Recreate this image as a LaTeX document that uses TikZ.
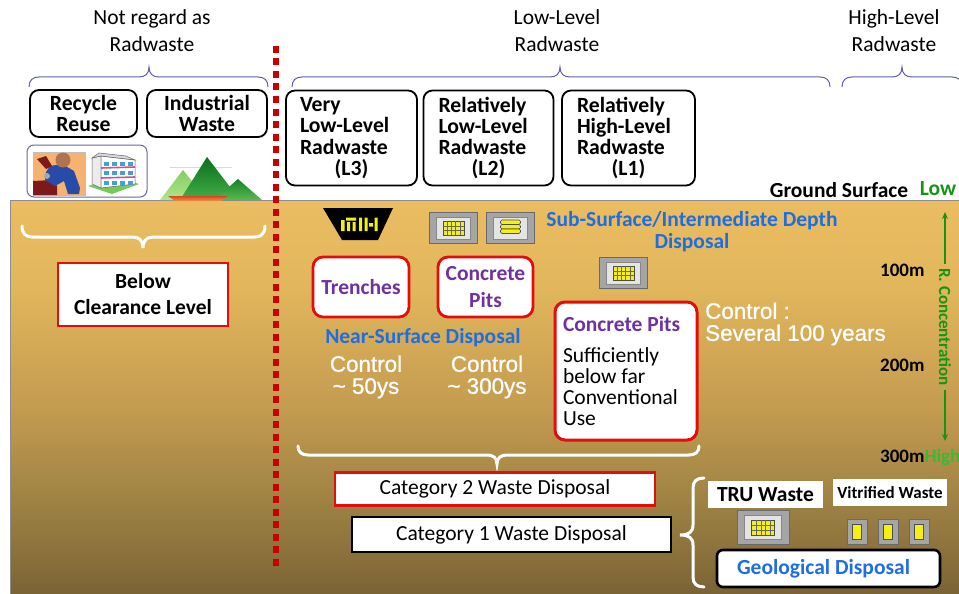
\documentclass[tikz,border=0pt]{standalone}
\usepackage{fontspec}
\setmainfont{Carlito}
\newfontfamily\arialfont[FakeBold=0.9]{Liberation Sans}
\usetikzlibrary{arrows.meta}

\definecolor{bracecol}{RGB}{95,95,175}
\definecolor{bluetxt}{RGB}{30,110,225}
\definecolor{purpletxt}{RGB}{112,48,160}
\definecolor{redcol}{RGB}{228,12,12}
\definecolor{dotred}{RGB}{200,0,0}
\definecolor{greentxt}{RGB}{20,150,20}
\definecolor{greenhigh}{RGB}{50,190,50}
\definecolor{crateout}{RGB}{165,165,165}
\definecolor{crateedge}{RGB}{105,105,105}
\definecolor{cratein}{RGB}{228,228,228}
\definecolor{wasteyel}{RGB}{245,240,20}
\definecolor{iconorange}{RGB}{245,178,112}
\definecolor{benchred}{RGB}{125,25,25}
\definecolor{bodyblue}{RGB}{40,75,170}
\definecolor{headbrown}{RGB}{175,115,80}
\definecolor{bandpink}{RGB}{210,80,140}
\definecolor{lawngreen}{RGB}{120,200,90}
\definecolor{windowblue}{RGB}{70,160,210}
\definecolor{mtlighttop}{RGB}{130,205,95}
\definecolor{mtlightbot}{RGB}{175,230,140}
\definecolor{mtdarktop}{RGB}{10,110,30}
\definecolor{mtdarkbot}{RGB}{70,175,70}
\definecolor{mtrighttop}{RGB}{20,130,40}
\definecolor{mtrightbot}{RGB}{90,185,80}
\definecolor{bowltop}{RGB}{215,70,40}
\definecolor{bowlbot}{RGB}{240,150,60}
\definecolor{gnd0}{RGB}{70,56,30}
\definecolor{gnd1}{RGB}{83,66,36}
\definecolor{gnd2}{RGB}{100,80,45}
\definecolor{gnd3}{RGB}{135,110,58}
\definecolor{gnd4}{RGB}{165,135,70}
\definecolor{gnd5}{RGB}{197,156,80}
\definecolor{gnd6}{RGB}{226,183,92}
\definecolor{gnd7}{RGB}{246,195,105}
\definecolor{gnd8}{RGB}{251,200,112}

\pgfdeclareverticalshading{groundshade}{100bp}{color(0bp)=(gnd0); color(8.6bp)=(gnd1);
  color(18.8bp)=(gnd2); color(28.9bp)=(gnd3); color(39bp)=(gnd4); color(49bp)=(gnd5);
  color(64.5bp)=(gnd6); color(87bp)=(gnd7); color(100bp)=(gnd8)}

% horizontal curly brace: style, left x, tip x, right x, end y, signed half height, curl width
\newcommand\hbrace[7]{\draw[#1] ({#2},{#5}) .. controls ({#2},{#5-0.7*(#6)}) and ({#2+0.4*(#7)},{#5-(#6)}) .. ({#2+(#7)},{#5-(#6)})
  -- ({#3-(#7)},{#5-(#6)}) .. controls ({#3-0.4*(#7)},{#5-(#6)}) and ({#3},{#5-1.3*(#6)}) .. ({#3},{#5-2*(#6)})
  .. controls ({#3},{#5-1.3*(#6)}) and ({#3+0.4*(#7)},{#5-(#6)}) .. ({#3+(#7)},{#5-(#6)})
  -- ({#4-(#7)},{#5-(#6)}) .. controls ({#4-0.4*(#7)},{#5-(#6)}) and ({#4},{#5-0.7*(#6)}) .. ({#4},{#5});}

\tikzset{
  gridcrate/.pic={
    \draw[fill=crateout,draw=crateedge,line width=0.8pt] (-24,-15.5) rectangle (24,15.5);
    \draw[fill=cratein,draw=crateedge!80,line width=0.6pt] (-17,-11) rectangle (17,11);
    \draw[fill=wasteyel,draw=black!70,line width=0.6pt] (-10.5,-7) rectangle (10.5,7);
    \foreach \gx in {-6.3,-2.1,2.1,6.3} \draw[black!60,line width=0.4pt] (\gx,-7) -- (\gx,7);
    \foreach \gy in {-2.3,2.3} \draw[black!60,line width=0.4pt] (-10.5,\gy) -- (10.5,\gy);
  },
  drumcrate/.pic={
    \draw[fill=crateout,draw=crateedge,line width=0.8pt] (-24,-15.5) rectangle (24,15.5);
    \draw[fill=cratein,draw=crateedge!80,line width=0.6pt] (-17,-11) rectangle (17,11);
    \foreach \gy in {-6,-1.5,3}
      \draw[fill=wasteyel,draw=black!70,line width=0.6pt,rounded corners=1.5pt] (-10,\gy-2) rectangle (10,\gy+2.5);
  },
  glasscan/.pic={
    \draw[fill=crateout,draw=crateedge,line width=0.8pt] (-10,-12.5) rectangle (10,12.5);
    \draw[fill=wasteyel,draw=black!70,line width=0.6pt] (-4.5,-7.5) rectangle (4.5,7.5);
  },
  lvlbox/.style={draw=black,line width=1.8pt,rounded corners=9pt,fill=white,inner ysep=0pt,
    font=\bfseries\fontsize{21.7}{21.3}\selectfont},
  pitbox/.style={draw=redcol,line width=2.8pt,rounded corners=10pt,fill=white,inner sep=0pt,
    font=\bfseries\fontsize{21.5}{27}\selectfont,text=purpletxt,align=center},
  catbox/.style={line width=2.6pt,fill=white,inner sep=0pt,font=\fontsize{21.5}{24}\selectfont},
  plain/.style={font=\fontsize{21.5}{27}\selectfont,align=center,inner sep=0pt},
  bluelbl/.style={font=\bfseries\fontsize{21.5}{22}\selectfont,text=bluetxt,align=center,inner sep=0pt},
  ctltxt/.style={font=\arialfont\fontsize{22.4}{22}\selectfont,text=white,inner sep=0pt},
  depth/.style={font=\bfseries\fontsize{19}{20}\selectfont,anchor=west,inner sep=0pt},
  topbrace/.style={draw=bracecol,line width=1pt},
  whitebrace/.style={draw=white,line width=3pt,line cap=round}
}

\begin{document}
\begin{tikzpicture}[x=1pt,y=-1pt]
\useasboundingbox (0,0) rectangle (959,594);
\clip (0,0) rectangle (959,594);

% ground
\shade[shading=groundshade] (10,200) rectangle (959,594);
\draw[black!45,line width=0.8pt] (10,594) -- (10,200) -- (959,200);

% classification headings and their braces
\node[plain] (notrad) at (152,31) {Not regard as\\Radwaste};
\node[plain] (lowlev) at (557,31) {Low-Level\\Radwaste};
\node[plain] (highlev) at (894,31) {High-Level\\Radwaste};
\hbrace{topbrace}{29}{149}{268}{87}{10}{10}
\hbrace{topbrace}{292}{560}{830}{87}{10}{10}
\hbrace{topbrace}{842}{902}{962}{87}{10}{10}

% waste classes
\node[lvlbox,align=center,inner xsep=0pt,minimum width=107pt,minimum height=47pt] (recycle) at (83.5,113.5) {Recycle\\Reuse};
\node[lvlbox,align=center,inner xsep=0pt,minimum width=120pt,minimum height=47pt] (industrial) at (207,113.5) {Industrial\\Waste};
\node[lvlbox,align=flush left,inner xsep=14pt,text width=103pt,minimum height=95pt] (lthree) at (351.5,138)
  {Very\\Low-Level\\Radwaste\\\makebox[\hsize]{(L3)}};
\node[lvlbox,align=flush left,inner xsep=15pt,text width=100pt,minimum height=95pt] (ltwo) at (488.5,138)
  {Relatively\\Low-Level\\Radwaste\\\makebox[\hsize]{(L2)}};
\node[lvlbox,align=flush left,inner xsep=15pt,text width=103pt,minimum height=95pt] (lone) at (628.5,138)
  {Relatively\\High-Level\\Radwaste\\\makebox[\hsize]{(L1)}};

% recycling icons
\draw[draw=bracecol!70!gray,line width=1pt,fill=white,rounded corners=7pt] (27,145) rectangle (147,197);
\draw[fill=iconorange,draw=black!25] (33,152) rectangle (85,195);
\fill[benchred] (33,181) -- (52,180) -- (57,186) -- (57,195) -- (33,195) -- cycle;
\fill[bodyblue] (50,166) -- (62,164) -- (74,171) -- (80,188) -- (79,194) -- (68,194)
  -- (64,181) -- (55,186) -- (45,180) -- (46,172) -- cycle;
\fill[headbrown] (63,160) circle (7.5);
\fill[benchred] (37,159) -- (46,156) -- (52,166) -- (46,169) -- cycle;
\fill[gray!70] (47,176) circle (3);
% building
\fill[lawngreen] (88,186) -- (112,194) -- (139,184) -- (118,177) -- cycle;
\draw[fill=gray!15,draw=black!60,line width=0.5pt] (92,158) -- (101,156) -- (101,188) -- (92,184) -- cycle;
\draw[fill=white,draw=black!60,line width=0.5pt] (101,156) -- (135,160) -- (135,184) -- (101,188) -- cycle;
\draw[fill=gray!30,draw=black!60,line width=0.5pt] (92,158) -- (101,156) -- (135,160) -- (126,156) -- (99,153) -- cycle;
\draw[bandpink,line width=1.6pt] (101,168) -- (135,167);
\draw[bandpink,line width=1.6pt] (101,178) -- (135,177);
\foreach \wx in {104,112,120,128} {
  \fill[windowblue] (\wx,161.5) rectangle ++(5,4);
  \fill[windowblue] (\wx,171) rectangle ++(5,4);
  \fill[windowblue] (\wx,180.5) rectangle ++(5,4);
}
% mountains
\draw[black!15,line width=0.8pt] (170,167) -- (232,167);
\shade[top color=mtlighttop,bottom color=mtlightbot] (160,200) -- (183,170) -- (207,200) -- cycle;
\shade[top color=mtdarktop,bottom color=mtdarkbot] (180,200) -- (207,157) -- (240,200) -- cycle;
\shade[top color=mtrighttop,bottom color=mtrightbot] (214,200) -- (238,179) -- (262,200) -- cycle;
\shade[top color=bowltop,bottom color=bowlbot] (168,196) -- (228,196) -- (221,201) -- (175,201) -- cycle;

\node[font=\bfseries\fontsize{21.5}{22}\selectfont,inner sep=0pt] (ground) at (839,190) {Ground Surface};
\node[font=\bfseries\fontsize{21.5}{22}\selectfont,text=greentxt,inner sep=0pt] (low) at (938,189) {Low};

% boundary between cleared material and radwaste
\draw[dotred,line width=5.5pt,dash pattern=on 7pt off 5.5pt] (276,46) -- (276,566);

% below clearance
\hbrace{whitebrace}{265}{143}{22}{226}{-11}{-10}
\node[draw=redcol,line width=2.6pt,fill=white,minimum width=170pt,minimum height=63pt,inner sep=0pt,
  align=center,font=\bfseries\fontsize{21.5}{26}\selectfont] (clearance) at (143,294.5) {Below\\Clearance Level};

% trench icon
\fill[black] (323,208) -- (393,208) -- (378,240) -- (342,240) -- cycle;
\fill[wasteyel] (341,220) rectangle (344.5,231) (346,217.5) rectangle (356,220.5) (347,222) rectangle (350,231)
  (352.5,222) rectangle (355.5,231) (359,217.5) rectangle (362,231) (364.5,217.5) rectangle (367.5,231)
  (369,223) rectangle (373,226.5) (374.5,217.5) rectangle (377.5,231);

% containers
\pic at (453.5,228) {gridcrate};
\pic at (510.5,228) {drumcrate};
\pic at (623.5,273) {gridcrate};

\node[bluelbl] (subsurf) at (692,232) {Sub-Surface/Intermediate Depth\\Disposal};

% near-surface disposal
\node[pitbox,minimum width=96pt,minimum height=60pt] (trench) at (361,287) {Trenches};
\node[pitbox,minimum width=95pt,minimum height=60pt] (cpitsmall) at (485.5,287) {Concrete\\Pits};
\node[bluelbl] (nearsurf) at (423,338) {Near-Surface Disposal};
\node[ctltxt,align=center] (ctlfifty) at (366,377) {Control\\\textasciitilde{} 50ys};
\node[ctltxt,align=center] (ctlthree) at (487,377) {Control\\\textasciitilde{} 300ys};

% intermediate depth pits
\node[draw=redcol,line width=3pt,rounded corners=10pt,fill=white,minimum width=142pt,minimum height=138pt,
  text width=126pt,inner xsep=8pt,inner ysep=0pt,align=flush left,font=\fontsize{21.5}{21.2}\selectfont] (cpitdeep) at (626,371)
  {{\bfseries\color{purpletxt}Concrete Pits}\\[10pt]Sufficiently\\below far\\Conventional\\Use};
\node[ctltxt,align=left,anchor=west] (ctlsev) at (705,324) {Control :\\Several 100 years};

% depth scale
\node[depth] (dhundred) at (880,270) {100m};
\node[depth] (dtwohundred) at (880,365) {200m};
\node[depth] (dthreehundred) at (880,457) {300m{\color{greenhigh}High}};
\node[font=\bfseries\fontsize{17}{18}\selectfont,text=greentxt,rotate=-90,inner sep=4pt] (rconc) at (945,327) {R. Concentration};
\coordinate (rctop) at (945,212);
\coordinate (rcbot) at (945,441);
\draw[greentxt,line width=1.3pt,-{Stealth[length=7pt,width=6pt]}] (rconc.west) -- (rctop);
\draw[greentxt,line width=1.3pt,-{Stealth[length=7pt,width=6pt]}] (rconc.east) -- (rcbot);

% categories
\hbrace{whitebrace}{699}{497}{298}{446}{-9}{-10}
\node[catbox,draw=redcol,minimum width=320pt,minimum height=33pt] (cattwo) at (495,489) {Category 2 Waste Disposal};
\node[catbox,draw=black,minimum width=319pt,minimum height=35pt] (catone) at (511.5,534.5) {Category 1 Waste Disposal};

% geological disposal
\draw[whitebrace] (704,478) .. controls (697,478) and (693,481) .. (693,488) -- (693,525)
  .. controls (693,532) and (689,535) .. (680,535) .. controls (689,535) and (693,538) .. (693,545)
  -- (693,577) .. controls (693,584) and (697,587) .. (704,587);
\node[fill=white,minimum width=115pt,minimum height=27pt,inner sep=0pt,font=\bfseries\fontsize{21.5}{22}\selectfont] (tru) at (765.5,494.5) {TRU Waste};
\node[fill=white,minimum width=114pt,minimum height=27pt,inner sep=0pt,font=\bfseries\fontsize{17}{18}\selectfont] (vitrified) at (890,492.5) {Vitrified Waste};
\pic[scale=1.08] at (763,527.5) {gridcrate};
\pic at (857,532) {glasscan};
\pic at (888,532) {glasscan};
\pic at (919,532) {glasscan};
\node[draw=black,line width=2.6pt,rounded corners=6pt,fill=white,minimum width=223pt,minimum height=37pt,inner sep=0pt,
  font=\bfseries\fontsize{21.5}{22}\selectfont,text=bluetxt] (geological) at (828.5,568.5) {Geological Disposal\hspace*{10pt}};
\end{tikzpicture}
\end{document}
